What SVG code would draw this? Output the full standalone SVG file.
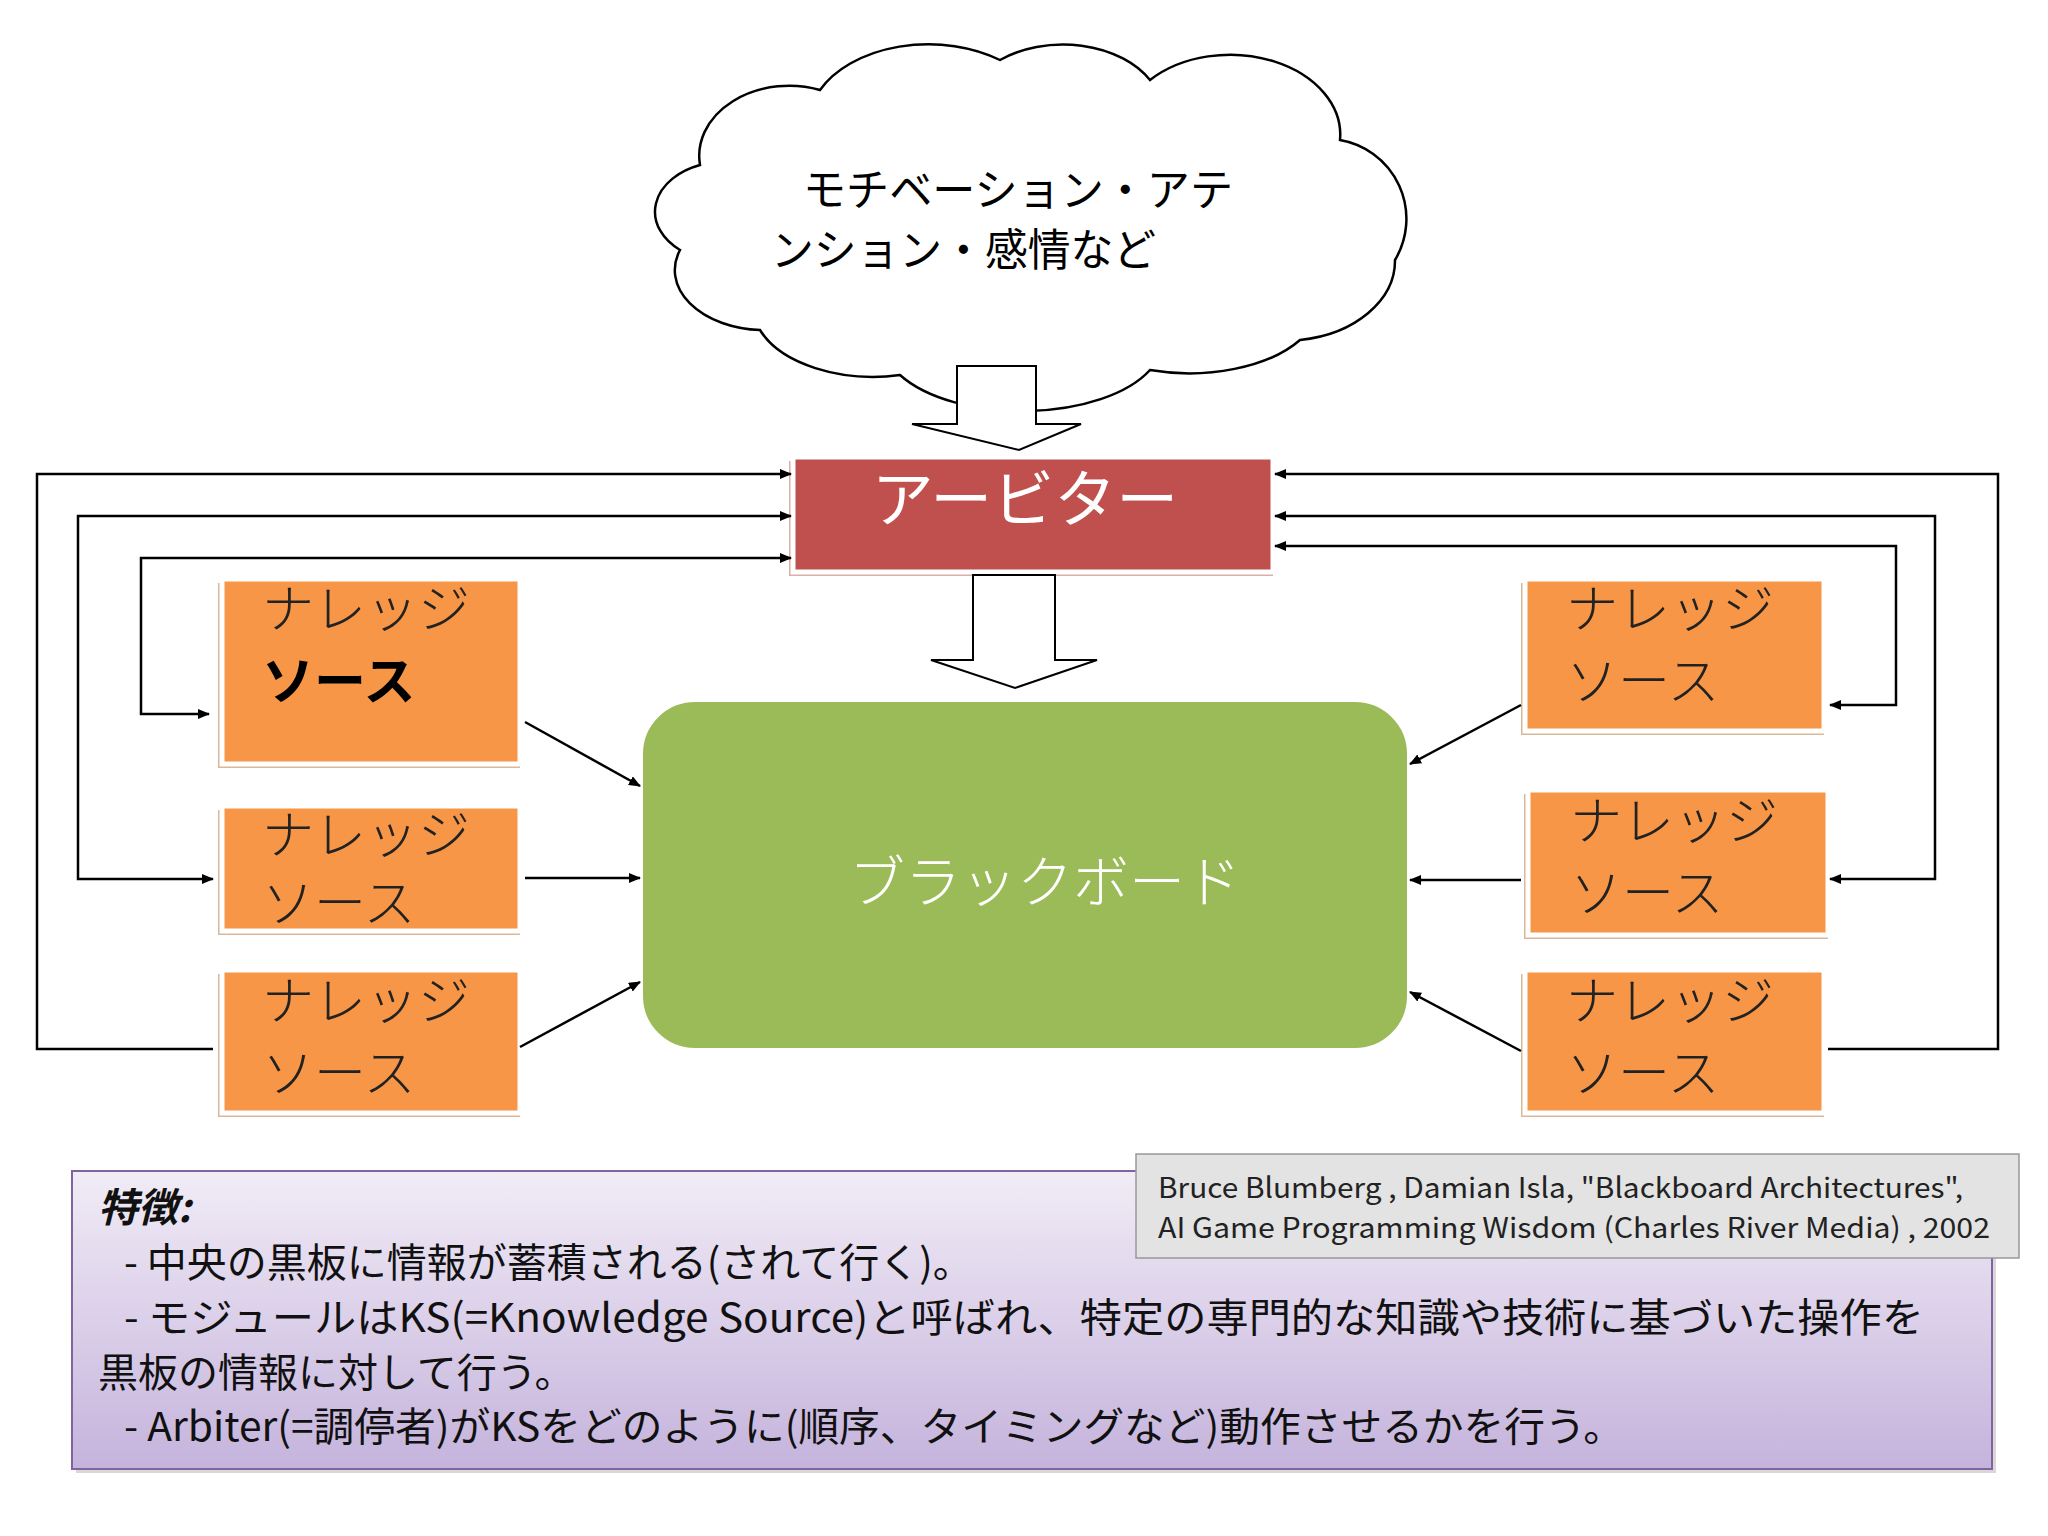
<svg xmlns="http://www.w3.org/2000/svg" width="2048" height="1536" viewBox="0 0 2048 1536">
<style>
.ks{fill:#F79646;stroke:#fff;stroke-width:5}
.ksh{fill:#d9b89a}
.kt{font-family:"Noto Sans CJK JP",sans-serif;font-size:52px;font-weight:300;fill:#222}
.ln{fill:none;stroke:#000;stroke-width:2.5}
.bt{font-family:"Noto Sans CJK JP",sans-serif;font-size:40px;fill:#111}
.ct{font-family:"Noto Sans CJK JP",sans-serif;font-size:28px;fill:#222}
</style>
<defs>
<marker id="ah" markerWidth="12" markerHeight="10" refX="11" refY="5" orient="auto-start-reverse" markerUnits="userSpaceOnUse"><path d="M0,0 L12,5 L0,10 Z" fill="#000"/></marker>
<linearGradient id="pg" x1="0" y1="0" x2="0" y2="1"><stop offset="0" stop-color="#F1ECF6"/><stop offset="1" stop-color="#C5B3DC"/></linearGradient>
</defs>
<rect width="2048" height="1536" fill="#fff"/>
<g id="cloud">
<path d="M700,165 A90 70 0 0 1 820,90 A120 80 0 0 1 1000,60 A100 70 0 0 1 1150,80 A110 80 0 0 1 1340,140 A80 80 0 0 1 1395,260 A110 80 0 0 1 1300,340 A130 70 0 0 1 1150,370 A140 70 0 0 1 900,375 A120 70 0 0 1 760,330 A90 60 0 0 1 680,250 A70 50 0 0 1 700,165 Z" fill="#fff" stroke="#000" stroke-width="2.5"/>
<text x="803" y="206" font-family="Noto Sans CJK JP,sans-serif" font-size="44" fill="#000" textLength="430" lengthAdjust="spacingAndGlyphs">モチベーション・アテ</text>
<text x="771" y="266" font-family="Noto Sans CJK JP,sans-serif" font-size="44" fill="#000" textLength="385" lengthAdjust="spacingAndGlyphs">ンション・感情など</text>
</g>
<g id="arrow1"><path d="M957,366 L1036,366 L1036,424 L1081,424 L1019,450 L912,424 L957,424 Z" fill="#fff" stroke="#000" stroke-width="2"/></g>
<g id="arbiter">
<rect x="789" y="461" width="484" height="115" fill="#d9b0a8"/>
<rect x="793" y="457" width="480" height="115" fill="#C0504D" stroke="#fff" stroke-width="5"/>
<text x="1025" y="522" text-anchor="middle" font-family="Noto Sans CJK JP,sans-serif" font-size="62" fill="#fff">アービター</text>
</g>
<g id="arrow2"><path d="M973,575 L1055,575 L1055,660 L1097,660 L1015,688 L931,660 L973,660 Z" fill="#fff" stroke="#000" stroke-width="2"/></g>
<g id="blackboard">
<rect x="640" y="699" width="770" height="352" rx="55" fill="#9BBB59" stroke="#fff" stroke-width="6"/>
<text x="1045" y="902" text-anchor="middle" font-family="Noto Sans CJK JP,sans-serif" font-weight="300" font-size="56" fill="#fff">ブラックボード</text>
</g>
<g id="ks1"><rect x="218" y="583" width="302" height="185" class="ksh"/><rect x="222" y="579" width="298" height="185" class="ks"/><text x="262" y="628" class="kt">ナレッジ</text><text x="262" y="700" class="kt" style="font-weight:bold;fill:#000">ソース</text></g>
<g id="ks2"><rect x="218" y="810" width="302" height="125" class="ksh"/><rect x="222" y="806" width="298" height="125" class="ks"/><text x="262" y="854" class="kt">ナレッジ</text><text x="262" y="922" class="kt">ソース</text></g>
<g id="ks3"><rect x="218" y="974" width="302" height="143" class="ksh"/><rect x="222" y="970" width="298" height="143" class="ks"/><text x="262" y="1020" class="kt">ナレッジ</text><text x="262" y="1092" class="kt">ソース</text></g>
<g id="ks4"><rect x="1521" y="583" width="303" height="152" class="ksh"/><rect x="1525" y="579" width="299" height="152" class="ks"/><text x="1566" y="628" class="kt">ナレッジ</text><text x="1566" y="700" class="kt">ソース</text></g>
<g id="ks5"><rect x="1524" y="794" width="304" height="145" class="ksh"/><rect x="1528" y="790" width="300" height="145" class="ks"/><text x="1570" y="840" class="kt">ナレッジ</text><text x="1570" y="912" class="kt">ソース</text></g>
<g id="ks6"><rect x="1521" y="974" width="303" height="143" class="ksh"/><rect x="1525" y="970" width="299" height="143" class="ks"/><text x="1566" y="1020" class="kt">ナレッジ</text><text x="1566" y="1092" class="kt">ソース</text></g>
<g id="connectors">
<polyline class="ln" points="213,1049 37,1049 37,474 791,474" marker-end="url(#ah)"/>
<polyline class="ln" points="213,879 78,879 78,516 791,516" marker-start="url(#ah)" marker-end="url(#ah)"/>
<polyline class="ln" points="209,714 141,714 141,558 791,558" marker-start="url(#ah)" marker-end="url(#ah)"/>
<polyline class="ln" points="1828,1049 1998,1049 1998,474 1275,474" marker-end="url(#ah)"/>
<polyline class="ln" points="1830,879 1935,879 1935,516 1275,516" marker-start="url(#ah)" marker-end="url(#ah)"/>
<polyline class="ln" points="1830,705 1896,705 1896,546 1275,546" marker-start="url(#ah)" marker-end="url(#ah)"/>
<line class="ln" x1="525" y1="722" x2="640" y2="786" marker-end="url(#ah)"/>
<line class="ln" x1="525" y1="878" x2="640" y2="878" marker-end="url(#ah)"/>
<line class="ln" x1="520" y1="1047" x2="640" y2="982" marker-end="url(#ah)"/>
<line class="ln" x1="1521" y1="705" x2="1410" y2="764" marker-end="url(#ah)"/>
<line class="ln" x1="1521" y1="880" x2="1410" y2="880" marker-end="url(#ah)"/>
<line class="ln" x1="1521" y1="1051" x2="1410" y2="992" marker-end="url(#ah)"/>
</g>
<g id="notes">
<rect x="76" y="1175" width="1920" height="298" fill="#d8d8d8"/>
<rect x="72" y="1171" width="1920" height="298" fill="url(#pg)" stroke="#8064A2" stroke-width="2"/>
<text x="98" y="1222" class="bt" font-weight="bold" font-style="italic">特徴:</text>
<text x="124" y="1277" class="bt">- 中央の黒板に情報が蓄積される(されて行く)。</text>
<text x="124" y="1332" class="bt" textLength="1800" lengthAdjust="spacingAndGlyphs">- モジュールはKS(=Knowledge Source)と呼ばれ、特定の専門的な知識や技術に基づいた操作を</text>
<text x="98" y="1387" class="bt">黒板の情報に対して行う。</text>
<text x="124" y="1441" class="bt" textLength="1500" lengthAdjust="spacingAndGlyphs">- Arbiter(=調停者)がKSをどのように(順序、タイミングなど)動作させるかを行う。</text>
</g>
<g id="citation">
<rect x="1136" y="1154" width="883" height="104" fill="#E3E3E3" stroke="#999" stroke-width="1.5"/>
<text x="1158" y="1198" class="ct" textLength="805" lengthAdjust="spacingAndGlyphs">Bruce Blumberg , Damian Isla, "Blackboard Architectures",</text>
<text x="1158" y="1238" class="ct" textLength="832" lengthAdjust="spacingAndGlyphs">AI Game Programming Wisdom (Charles River Media) , 2002</text>
</g>
</svg>
